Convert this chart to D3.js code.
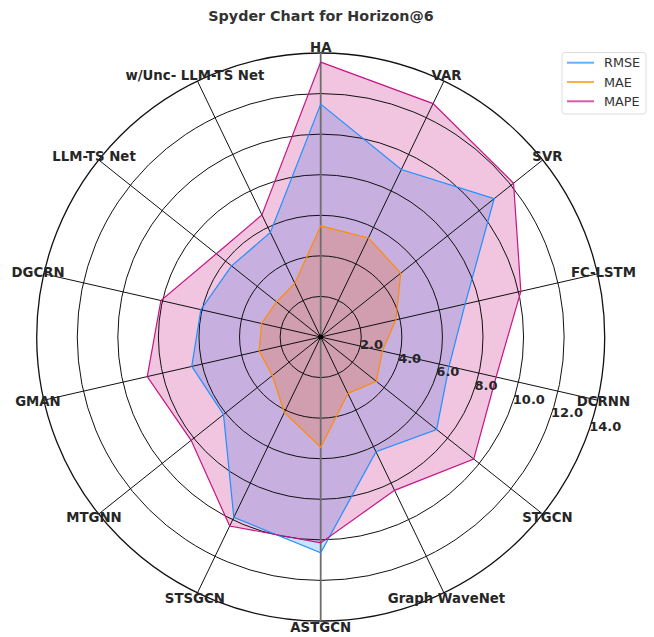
<!DOCTYPE html>
<html><head><meta charset="utf-8">
<script src="https://cdn.jsdelivr.net/npm/d3@7"></script>
<style>body{margin:0;background:#fff}svg{display:block}text{font-family:"DejaVu Sans",sans-serif}</style>
</head><body><div id="chart"></div>
<script>
const categories = ["HA","VAR","SVR","FC-LSTM","DCRNN","STGCN","Graph WaveNet","ASTGCN","STSGCN","MTGNN","GMAN","DGCRN","LLM-TS Net","w/Unc- LLM-TS Net"];
const rmse = [11.48, 9.16, 10.94, 7.30, 6.49, 7.31, 6.28, 10.64, 9.87, 6.13, 6.52, 6.06, 5.62, 5.72];
const mae  = [5.48, 5.42, 5.05, 3.80, 3.12, 3.51, 3.09, 5.43, 4.13, 3.05, 3.11, 2.99, 2.78, 2.94];
const mape = [13.55, 12.77, 12.16, 10.12, 8.87, 9.65, 8.39, 10.15, 10.34, 8.17, 8.77, 8.08, 6.58, 6.68];
const radialTicks = [2, 4, 6, 8, 10, 12, 14];
const seriesNames = ["RMSE", "MAE", "MAPE"];

const W = 654, H = 637, cx = 320.7, cy = 337, R = 284;
const colors = {RMSE: "#1E90FF", MAE: "#FF8C00", MAPE: "#C71585"};
const series = [{name: "RMSE", values: rmse}, {name: "MAE", values: mae}, {name: "MAPE", values: mape}];

const svg = d3.select("#chart").append("svg").attr("width", W).attr("height", H);
const g = svg.append("g").attr("transform", `translate(${cx},${cy})`);

const r = d3.scaleLinear().domain([0, 14]).range([0, R]);
const angle = d3.scalePoint().domain(categories.concat(["__end"])).range([0, 2 * Math.PI]);
const pt = (a, rad) => [rad * Math.sin(a), -rad * Math.cos(a)];

const line = d3.lineRadial().angle((d, i) => angle(categories[i])).radius(d => r(d)).curve(d3.curveLinearClosed);

// fills
series.forEach(s => {
  g.append("path").attr("d", line(s.values)).attr("fill", colors[s.name]).attr("fill-opacity", 0.25).attr("stroke", "none");
});

// grid
radialTicks.forEach(t => {
  g.append("circle").attr("r", r(t)).attr("fill", "none").attr("stroke", "#111").attr("stroke-width", t === 14 ? 1.3 : 1);
});
categories.forEach((c, i) => {
  const a = angle(c);
  const p = pt(a, R);
  const vertical = (i === 0 || i === 7);
  g.append("line").attr("x1", 0).attr("y1", 0).attr("x2", p[0]).attr("y2", p[1])
    .attr("stroke", vertical ? "#6e6e6e" : "#111").attr("stroke-width", vertical ? 1.8 : 1);
});
g.append("circle").attr("r", 2.5).attr("fill", "#000");

// lines
series.forEach(s => {
  g.append("path").attr("d", line(s.values)).attr("fill", "none").attr("stroke", colors[s.name]).attr("stroke-width", 1.2).attr("stroke-linejoin", "miter");
});

// radial tick labels
const rlab = 109.6 * Math.PI / 180;
radialTicks.forEach(t => {
  const p = pt(rlab, r(t));
  g.append("text").attr("x", p[0] + 1).attr("y", p[1] - 1.5).attr("text-anchor", "start")
    .attr("font-size", 13).attr("font-weight", "bold").attr("fill", "#262626").text(t.toFixed(1));
});

// category labels
categories.forEach(c => {
  const p = pt(angle(c), 290);
  g.append("text").attr("x", p[0]).attr("y", p[1]).attr("text-anchor", "middle").attr("dominant-baseline", "central")
    .attr("font-size", 13.3).attr("font-weight", "bold").attr("fill", "#262626").text(c);
});

// title
svg.append("text").attr("x", 321).attr("y", 21).attr("text-anchor", "middle").attr("font-size", 14.3)
  .attr("font-weight", "bold").attr("fill", "#333").text("Spyder Chart for Horizon@6");

// legend
const lg = svg.append("g");
lg.append("rect").attr("x", 562).attr("y", 52.5).attr("width", 84).attr("height", 61.5).attr("rx", 3)
  .attr("fill", "#fff").attr("fill-opacity", 0.8).attr("stroke", "#ddd");
seriesNames.forEach((n, i) => {
  const y = 62.7 + i * 19.3;
  lg.append("line").attr("x1", 567).attr("x2", 594).attr("y1", y).attr("y2", y).attr("stroke", colors[n]).attr("stroke-width", 2).attr("stroke-opacity", 0.7);
  lg.append("text").attr("x", 604).attr("y", y).attr("dominant-baseline", "central").attr("font-size", 12.8).attr("fill", "#333").text(n);
});
</script></body></html>
